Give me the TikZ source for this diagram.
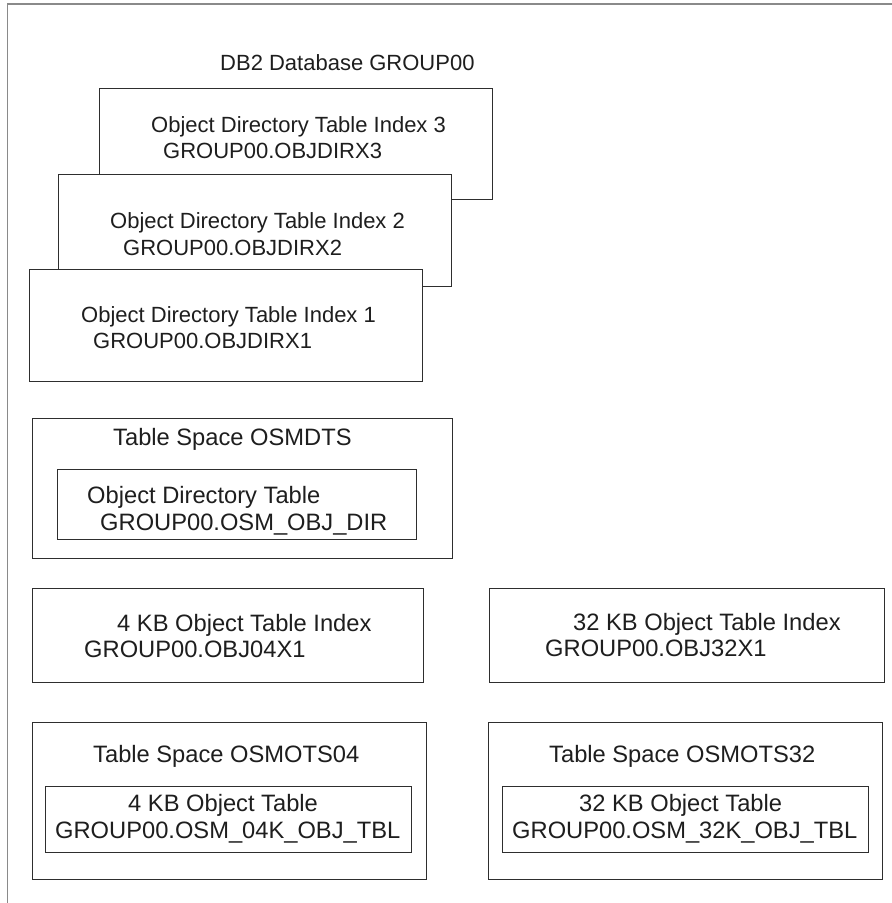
\documentclass[tikz,border=0pt]{standalone}
\usepackage{fontspec}
\setmainfont{Liberation Sans}
\definecolor{frame-gray}{HTML}{8A8A8A}
\definecolor{edge-dark}{HTML}{2E2E2E}
\definecolor{text-dark}{HTML}{1E1E1E}

\begin{document}
\begin{tikzpicture}[x=1pt, y=-1pt,
    box/.style={draw=edge-dark, fill=white, line width=1pt, inner sep=0pt,
      outer sep=0pt, anchor=north west},
    toptxt/.style={anchor=base west, inner sep=0pt, text=text-dark,
      font=\fontsize{22}{26}\selectfont},
    lowtxt/.style={anchor=base west, inner sep=0pt, text=text-dark,
      font=\fontsize{23.7}{28}\selectfont}]
    \useasboundingbox (0,0) rectangle (892,903);
    % open frame round the database
    \draw[frame-gray, line width=1.5pt] (7.5,903) -- (7.5,4) -- (892,4);
    \node[toptxt] (dbname) at (220,70) {DB2 Database GROUP00};
    % stacked directory indexes
    \node[box, minimum width=393pt, minimum height=111pt] (idx3) at (99,88) {};
    \node[toptxt] (idx3a) at (151,132) {Object Directory Table Index 3};
    \node[toptxt] (idx3b) at (163,158) {GROUP00.OBJDIRX3};
    \node[box, minimum width=393pt, minimum height=112pt] (idx2) at (58,174) {};
    \node[toptxt] (idx2a) at (110,228) {Object Directory Table Index 2};
    \node[toptxt] (idx2b) at (123,255) {GROUP00.OBJDIRX2};
    \node[box, minimum width=393pt, minimum height=112pt] (idx1) at (29,269) {};
    \node[toptxt] (idx1a) at (81,322) {Object Directory Table Index 1};
    \node[toptxt] (idx1b) at (93,348) {GROUP00.OBJDIRX1};
    % directory table space
    \node[box, minimum width=420pt, minimum height=140pt] (tsdir) at (32,418) {};
    \node[lowtxt] (tsdirname) at (113,445) {Table Space OSMDTS};
    \node[box, minimum width=359pt, minimum height=70pt] (tbldir) at (57,469) {};
    \node[lowtxt] (tbldira) at (87,503) {Object Directory Table};
    \node[lowtxt] (tbldirb) at (100,530) {GROUP00.OSM\_OBJ\_DIR};
    % object table indexes
    \node[box, minimum width=391pt, minimum height=94pt] (ix04) at (32,588) {};
    \node[lowtxt] (ix04a) at (117,631) {4 KB Object Table Index};
    \node[lowtxt] (ix04b) at (84,657) {GROUP00.OBJ04X1};
    \node[box, minimum width=395pt, minimum height=94pt] (ix32) at (489,588) {};
    \node[lowtxt] (ix32a) at (573,630) {32 KB Object Table Index};
    \node[lowtxt] (ix32b) at (545,656) {GROUP00.OBJ32X1};
    % object table spaces
    \node[box, minimum width=394pt, minimum height=157pt] (ts04) at (32,722) {};
    \node[lowtxt] (ts04name) at (93,762) {Table Space OSMOTS04};
    \node[box, minimum width=366pt, minimum height=66pt] (tbl04) at (45,786) {};
    \node[lowtxt] (tbl04a) at (128,811) {4 KB Object Table};
    \node[lowtxt] (tbl04b) at (55,838) {GROUP00.OSM\_04K\_OBJ\_TBL};
    \node[box, minimum width=394pt, minimum height=157pt] (ts32) at (488,722) {};
    \node[lowtxt] (ts32name) at (549,762) {Table Space OSMOTS32};
    \node[box, minimum width=366pt, minimum height=66pt] (tbl32) at (502,786) {};
    \node[lowtxt] (tbl32a) at (579,811) {32 KB Object Table};
    \node[lowtxt] (tbl32b) at (512,838) {GROUP00.OSM\_32K\_OBJ\_TBL};
\end{tikzpicture}
\end{document}
